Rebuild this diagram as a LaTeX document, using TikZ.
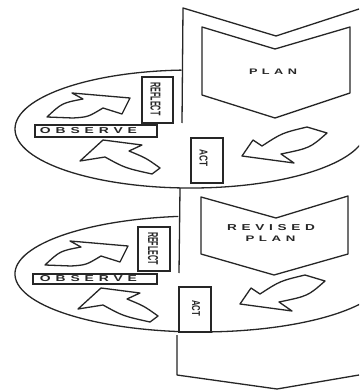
\documentclass[tikz,border=0pt]{standalone}
\usepackage{fontspec}
\usepackage{graphicx}
\newfontfamily\labfont{Liberation Sans}
\tikzset{
  ln/.style={line width=1.3pt, draw=black!85, line join=round},
  shp/.style={ln, fill=white},
  boxnode/.style={rectangle, draw=black!85, line width=1.4pt, fill=white, inner sep=0pt},
  lbl/.style={inner sep=0pt, text=black!85, font=\labfont\bfseries},
}
\newcommand{\fitbox}[3]{\resizebox{#1pt}{#2pt}{#3}}
\newcommand{\sgap}{\hspace{.35em}}
\newcommand{\cyclearrows}{%
  % observe -> reflect
  \draw[shp] (47,117) -- (73,118) .. controls (88,117) .. (103,108) -- (122,114) -- (130,98)
     -- (72,93) -- (83,99) .. controls (62,103) .. (47,117) -- cycle;
  % act -> observe
  \draw[shp] (103,140) -- (142,145) -- (129,151) .. controls (146,158) .. (160,168)
     -- (152,174) .. controls (125,168) .. (105,157) -- (80,161) -- cycle;
  % plan -> act
  \draw[shp] (242,156) -- (253,140) -- (262,146) .. controls (282,133) .. (307,127)
     -- (327,133) .. controls (310,148) .. (281,154) -- (294,163) -- cycle;
}
\begin{document}
\begin{tikzpicture}[x=1pt,y=-1pt]
\useasboundingbox (0,0) rectangle (359,390);
\fill[white] (0,0) rectangle (359,390);
\clip (0,0) rectangle (359,390);

% ellipses
\draw[ln] (181.5,70.1) arc[start angle=267, end angle=0, x radius=175.7, y radius=59];
\draw[ln] (178.3,216.4) arc[start angle=263, end angle=0, x radius=186, y radius=58];

% long strip (chevron band)
\draw[ln] (359,9) -- (276,36) -- (183,8) -- (182,123);
\draw[ln] (180,188) -- (179,273);
\draw[ln] (177,335) -- (177,375) -- (277,389) -- (359,375);

% plan boxes
\draw[shp] (202,27) -- (275,49) -- (350,27) -- (350,93) -- (275,118) -- (202,95) -- cycle;
\draw[shp] (201,197) -- (276,218) -- (348,196) -- (348,254) -- (274,275) -- (201,254) -- cycle;
\node[lbl] (plan1) at (273,72) {\fitbox{48}{5.5}{P\sgap L\sgap A\sgap N}};
\node[lbl] (revised) at (271,227.5) {\fitbox{88}{6}{R\sgap E\sgap V\sgap I\sgap S\sgap E\sgap D}};
\node[lbl] (plan2) at (270.5,238.5) {\fitbox{50}{5.5}{P\sgap L\sgap A\sgap N}};

% arrows
\cyclearrows
\begin{scope}[shift={(-2,148)}]
\cyclearrows
\end{scope}

% label boxes, cycle 1
\node[boxnode, minimum width=31pt, minimum height=46pt] (reflect1) at (157.5,100) {};
\node[lbl] (reflect1t) at (155.5,99) {\rotatebox{-90}{\fitbox{33}{10}{REFLECT}}};
\node[boxnode, minimum width=122pt, minimum height=12pt] (observe1) at (96,131) {};
\node[lbl] (observe1t) at (88.5,131) {\fitbox{97}{6}{O\sgap B\sgap S\sgap E\sgap R\sgap V\sgap E}};
\node[boxnode, minimum width=32pt, minimum height=45pt] (act1) at (207,160.5) {};
\node[lbl] (act1t) at (203.5,158.5) {\rotatebox{-90}{\fitbox{17}{8}{ACT}}};

% label boxes, cycle 2
\node[boxnode, minimum width=32pt, minimum height=44pt] (reflect2) at (154,249) {};
\node[lbl] (reflect2t) at (153,248.5) {\rotatebox{-90}{\fitbox{33}{10}{REFLECT}}};
\node[boxnode, minimum width=124pt, minimum height=10pt] (observe2) at (95,279) {};
\node[lbl] (observe2t) at (88.5,278.5) {\fitbox{97}{6}{O\sgap B\sgap S\sgap E\sgap R\sgap V\sgap E}};
\node[boxnode, minimum width=32pt, minimum height=45pt] (act2) at (195,309.5) {};
\node[lbl] (act2t) at (196,308) {\rotatebox{-90}{\fitbox{16}{8}{ACT}}};
\end{tikzpicture}
\end{document}
